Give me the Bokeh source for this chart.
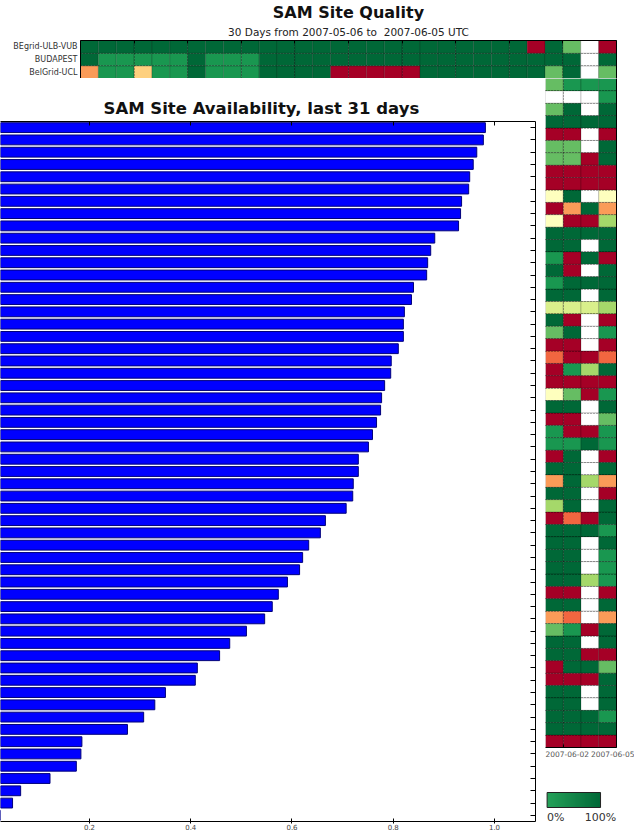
import numpy as np
import pandas as pd
from bokeh.plotting import figure
from bokeh.layouts import column, row
from bokeh.models import (Range1d, FixedTicker, LinearAxis, Title, LinearColorMapper,
                          DatetimeTickFormatter, PrintfTickFormatter, ColumnDataSource)
from bokeh.transform import transform
from bokeh.embed import file_html
from bokeh.resources import INLINE
from bokeh.core.properties import value

FONT = "DejaVu Sans"

# ---------------- data ----------------
NA = float("nan")
# quality levels (fraction of successful tests)
DG, MG, LG, YG, PYG, PY, PE, OG, OR, RD = 1.0, 0.9, 0.8, 0.7, 0.6, 0.5, 0.37, 0.27, 0.19, 0.0

quality_title = "SAM Site Quality"
quality_subtitle = "30 Days from 2007-05-06 to\u00a0 2007-06-05 UTC"
availability_title = "SAM Site Availability, last 31 days"
period_start = "2007-05-06"
period_end = "2007-06-05"
date_ticks = ["2007-05-06", "2007-05-09", "2007-05-12", "2007-05-15", "2007-05-18",
              "2007-05-21", "2007-05-24", "2007-05-27", "2007-05-30", "2007-06-02",
              "2007-06-05"]

top_sites = ["BEgrid-ULB-VUB", "BUDAPEST", "BelGrid-UCL"]
q_begrid_ulb_vub = [DG] * 25 + [RD, DG, LG, NA, RD]
q_budapest = [DG, MG, MG, MG, MG, MG, DG, MG, MG, MG] + [DG] * 18 + [NA, DG]
q_belgrid_ucl = [OG, MG, MG, PE, MG, MG, DG, MG, MG, MG, DG, DG, DG, DG,
                 RD, RD, RD, RD, RD, DG, DG, DG, DG, DG, DG, DG, LG, DG, NA, LG]

# remaining sites, last four days only (top to bottom)
strip_days = ["2007-06-01", "2007-06-02", "2007-06-03", "2007-06-04"]
q_0601 = [LG, NA, LG, DG, RD, LG, LG, RD, RD, PY, RD, PY, DG, DG, MG, DG, MG, DG,
          PYG, DG, LG, RD, OR, RD, RD, PY, DG, RD, MG, MG, RD, DG, OG, DG, YG, RD,
          DG, DG, DG, DG, DG, RD, DG, OG, LG, DG, DG, RD, RD, DG, DG, DG, DG, RD]
q_0602 = [MG, NA, DG, DG, RD, LG, LG, RD, RD, DG, OG, RD, DG, DG, RD, RD, DG, DG,
          PYG, RD, DG, RD, RD, MG, RD, LG, DG, RD, RD, MG, DG, DG, DG, DG, DG, OR,
          DG, DG, DG, DG, DG, RD, DG, OR, MG, DG, DG, DG, RD, DG, DG, DG, DG, RD]
q_0603 = [MG, NA, NA, DG, NA, NA, RD, RD, RD, NA, DG, RD, DG, NA, DG, NA, DG, NA,
          PYG, NA, NA, NA, RD, YG, RD, RD, NA, NA, RD, DG, NA, NA, YG, NA, NA, RD,
          DG, NA, NA, NA, YG, NA, NA, NA, RD, NA, RD, DG, RD, NA, NA, DG, DG, RD]
q_0604 = [MG, MG, DG, DG, RD, DG, DG, RD, RD, PY, OG, YG, DG, DG, RD, DG, DG, DG,
          YG, RD, MG, RD, OR, DG, RD, MG, DG, LG, MG, MG, RD, DG, OG, RD, DG, DG,
          MG, DG, MG, MG, MG, RD, DG, OG, DG, DG, RD, LG, DG, DG, DG, MG, DG, RD]

# availability per site, top to bottom
availability = [0.982, 0.978, 0.965, 0.958, 0.951, 0.949, 0.935, 0.933, 0.929, 0.882,
                 0.874, 0.868, 0.866, 0.840, 0.836, 0.822, 0.820, 0.820, 0.810, 0.796,
                 0.795, 0.783, 0.777, 0.775, 0.767, 0.759, 0.751, 0.731, 0.731, 0.721,
                 0.720, 0.707, 0.666, 0.656, 0.633, 0.621, 0.615, 0.591, 0.573, 0.561,
                 0.546, 0.510, 0.477, 0.457, 0.413, 0.409, 0.350, 0.329, 0.307, 0.275,
                 0.185, 0.183, 0.174, 0.122, 0.064, 0.048, 0.0]
avail_ticks = [0.2, 0.4, 0.6, 0.8, 1.0]
cbar_labels = ["0%", "100%"]

# ---------------- helpers ----------------
RDYLGN = ["#a50026", "#d73027", "#f46d43", "#fdae61", "#fee08b", "#ffffbf",
          "#d9ef8b", "#a6d96a", "#66bd63", "#1a9850", "#006837"]


def interp_palette(stops, n):
    rgb = np.array([[int(h[i:i + 2], 16) for i in (1, 3, 5)] for h in stops], float)
    pos = np.linspace(0, 1, len(stops))
    t = np.linspace(0, 1, n)
    out = np.stack([np.interp(t, pos, rgb[:, k]) for k in range(3)], 1)
    return ["#%02x%02x%02x" % tuple(int(round(v)) for v in c) for c in out]


def ms(d):
    return pd.Timestamp(d).value / 1e6


DAY_MS = 86400000.0
mapper = LinearColorMapper(palette=interp_palette(RDYLGN, 256), low=0, high=1,
                           nan_color="white")
tick_ms = [ms(d) for d in date_ticks]
date_fmt = DatetimeTickFormatter(days="%Y-%m-%d", months="%Y-%m-%d", hours="%Y-%m-%d",
                                 years="%Y-%m-%d")


def clean(p):
    p.background_fill_color = "white"
    p.border_fill_color = "white"
    p.outline_line_color = None


def style_axis(ax, tick_in=0, tick_out=0, labels=False, size="7.5px", standoff=2):
    ax.axis_line_color = "black"
    ax.axis_line_width = 1
    ax.major_tick_line_color = "black"
    ax.major_tick_in = tick_in
    ax.major_tick_out = tick_out
    ax.minor_tick_line_color = None
    ax.major_label_text_font = FONT
    ax.major_label_text_color = "#444444"
    ax.major_label_standoff = standoff
    ax.major_label_text_font_size = size
    if not labels:
        ax.major_label_text_font_size = "1px"
        ax.major_label_text_color = None
        ax.major_label_standoff = 0


def overlay_grid(p, xticks, yticks):
    p.xgrid.ticker = FixedTicker(ticks=xticks)
    p.ygrid.ticker = FixedTicker(ticks=yticks)
    for g in (p.xgrid, p.ygrid):
        g.grid_line_color = "black"
        g.grid_line_alpha = 0.55
        g.grid_line_dash = "1 2"
        g.grid_line_width = 1
        g.level = "overlay"


# ---------------- top heatmap (first three sites, all days) ----------------
days = pd.date_range(period_start, periods=len(q_budapest), freq="D")
xa, ya, qa = [], [], []
for r, vals in enumerate([q_belgrid_ucl, q_budapest, q_begrid_ulb_vub]):
    for d, v in zip(days, vals):
        xa.append(ms(d) + DAY_MS / 2)
        ya.append(r)
        qa.append(v)
srcA = ColumnDataSource(dict(x=np.array(xa), y=np.array(ya), q=np.array(qa, float)))

figA = figure(width=634, height=78, x_axis_type="datetime", x_axis_location="above",
              x_range=Range1d(ms(period_start), ms(period_end)),
              y_range=Range1d(-0.5, len(top_sites) - 0.5),
              output_backend="svg", toolbar_location=None, title=None,
              min_border_left=80, min_border_right=18, min_border_top=39,
              min_border_bottom=0)
clean(figA)
figA.rect(x="x", y="y", width=DAY_MS, height=1, source=srcA,
          fill_color=transform("q", mapper), line_color="black", line_alpha=0.18)
figA.xaxis.ticker = FixedTicker(ticks=tick_ms)
style_axis(figA.xaxis[0], tick_in=3)
figA.yaxis.ticker = FixedTicker(ticks=list(range(len(top_sites))))
figA.yaxis.major_label_overrides = {i: s for i, s in enumerate(reversed(top_sites))}
style_axis(figA.yaxis[0], labels=True, size="8px", standoff=3)
figA.yaxis.major_label_text_color = "#333333"
rA = LinearAxis()
style_axis(rA)
figA.add_layout(rA, "right")
overlay_grid(figA, tick_ms, [i + 0.5 for i in range(len(top_sites) - 1)])
figA.add_layout(Title(text=quality_subtitle, text_font=FONT, text_font_size="10.5px",
                      text_font_style="normal", align="center", standoff=5,
                      text_color="#222222"), "above")
figA.add_layout(Title(text=quality_title, text_font=FONT, text_font_size="16px",
                      text_font_style="bold", align="center", standoff=0,
                      text_color="#111111"), "above")

# ---------------- availability bars ----------------
n_sites = len(availability)
srcB = ColumnDataSource(dict(y=list(range(n_sites - 1, -1, -1)), v=availability))
figB = figure(width=545, height=756, x_range=Range1d(0.0242, 1.081),
              y_range=Range1d(-0.5, n_sites - 0.5), y_axis_location="right",
              output_backend="svg", toolbar_location=None, title=None,
              min_border_left=0, min_border_right=10, min_border_top=43,
              min_border_bottom=13)
clean(figB)
figB.grid.visible = False
figB.hbar(y="y", right="v", left=0, height=0.8, source=srcB, fill_color="#0000ff",
          line_color="#00007a", line_width=1)
figB.xaxis.ticker = FixedTicker(ticks=avail_ticks)
figB.xaxis.formatter = PrintfTickFormatter(format="%.1f")
style_axis(figB.xaxis[0], tick_in=3, tick_out=2, labels=True, size="7px", standoff=0)
figB.yaxis.ticker = FixedTicker(ticks=list(range(n_sites)))
style_axis(figB.yaxis[0], tick_in=5)
topB = LinearAxis(ticker=FixedTicker(ticks=avail_ticks))
style_axis(topB, tick_in=4)
figB.add_layout(topB, "above")
figB.add_layout(Title(text=availability_title, text_font=FONT, text_font_size="16.5px",
                      text_font_style="bold", align="left", offset=103, standoff=7,
                      text_color="#111111"), "above")

# ---------------- heatmap strip (other sites, last four days) ----------------
n_strip = len(q_0601)
xc, yc, qc = [], [], []
for d, vals in zip(strip_days, [q_0601, q_0602, q_0603, q_0604]):
    for i, v in enumerate(vals):
        xc.append(ms(d) + DAY_MS / 2)
        yc.append(n_strip - 1 - i)
        qc.append(v)
srcC = ColumnDataSource(dict(x=np.array(xc), y=np.array(yc), q=np.array(qc, float)))
figC = figure(width=89, height=684, x_axis_type="datetime",
              x_range=Range1d(ms(strip_days[0]), ms(period_end)),
              y_range=Range1d(-0.5, n_strip - 0.5), y_axis_location="right",
              output_backend="svg", toolbar_location=None, title=None,
              min_border_left=0, min_border_right=18, min_border_top=0,
              min_border_bottom=15)
clean(figC)
figC.rect(x="x", y="y", width=DAY_MS, height=1, source=srcC,
          fill_color=transform("q", mapper), line_color="black", line_alpha=0.18)
figC.xaxis.ticker = FixedTicker(ticks=tick_ms)
figC.xaxis.formatter = date_fmt
style_axis(figC.xaxis[0], tick_in=3, labels=True, size="7.5px", standoff=3)
figC.xaxis.major_label_text_color = "#555555"
style_axis(figC.yaxis[0])
overlay_grid(figC, tick_ms, [i + 0.5 for i in range(n_strip - 1)])

# ---------------- colour bar ----------------
cb_w, cb_h = 67.0, 15.0       # pixel size of the bar
cb_left, cb_right, cb_top, cb_bottom = 2.0, 20.0, 30.0, 27.0
figD = figure(width=89, height=72,
              x_range=Range1d(-cb_left / cb_w, 1 + cb_right / cb_w),
              y_range=Range1d(-cb_bottom / cb_h, 1 + cb_top / cb_h),
              x_axis_location=None, y_axis_location=None,
              output_backend="svg", toolbar_location=None, title=None, min_border=0)
clean(figD)
figD.grid.visible = False
cb_mapper = LinearColorMapper(palette=interp_palette(["#25a159", "#006837"], 64),
                              low=0, high=1)
figD.image(image=[np.linspace(0, 1, 64).reshape(1, 64)], x=0, y=0, dw=1, dh=1,
           color_mapper=cb_mapper)
figD.quad(left=0, right=1, bottom=0, top=1, fill_color=None, line_color="#222222",
          line_width=1)
figD.text(x=[0], y=[-0.2], text=[cbar_labels[0]], text_align="left",
          text_baseline="top", text_font=value(FONT), text_font_size="11px",
          text_color="#333333")
figD.text(x=[1], y=[-0.2], text=[cbar_labels[1]], text_align="center",
          text_baseline="top", text_font=value(FONT), text_font_size="11px",
          text_color="#333333")

layout = column(figA, row(figB, column(figC, figD)))
open("out.html", "w").write(file_html(layout, INLINE))
